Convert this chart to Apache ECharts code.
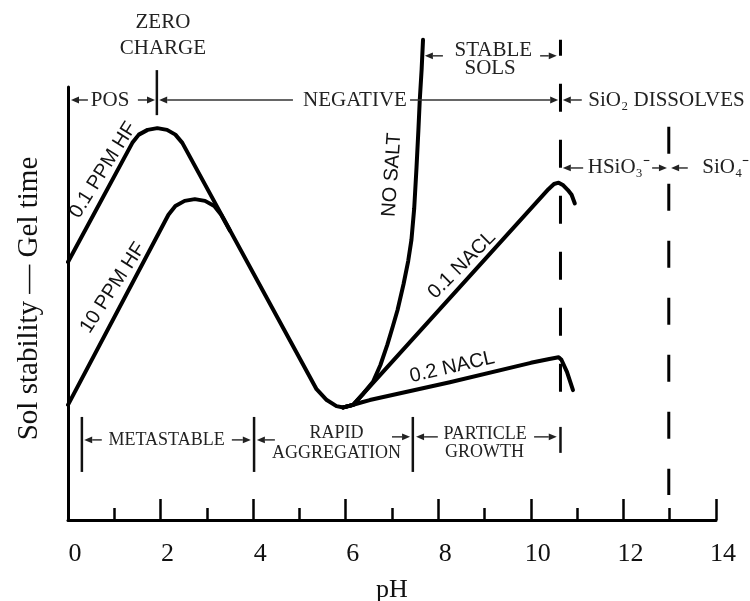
<!DOCTYPE html>
<html>
<head>
<meta charset="utf-8">
<script src="https://cdn.jsdelivr.net/npm/echarts@6/dist/echarts.min.js"></script>
<style>
  html, body { margin: 0; padding: 0; background: #fff; }
  #chart { width: 750px; height: 601px; }
</style>
</head>
<body>
<div id="chart"></div>
<script>
// pH axis ticks
const phTicks = [0, 2, 4, 6, 8, 10, 12, 14];

// Gel-time curves as [pH, relative stability]
const hfLow = [[0, 59.6], [1.39, 87.1], [1.53, 89.0], [1.72, 90.1], [1.93, 90.5], [2.14, 90.1], [2.32, 89.0],
  [2.47, 87.1], [5.37, 30.2], [5.59, 27.7], [5.8, 26.3], [5.95, 26.0], [6.16, 26.6]];
const hfHigh = [[0, 26.6], [2.17, 70.5], [2.32, 72.5], [2.52, 73.7], [2.74, 74.1], [2.96, 73.7], [3.16, 72.5],
  [3.31, 70.5], [3.5, 66.8]];
const noSalt = [[5.95, 26.0], [6.16, 26.6], [6.38, 29.2], [6.59, 31.9], [6.75, 35.8], [6.9, 40.5], [7.02, 44.8],
  [7.12, 48.5], [7.25, 54.5], [7.35, 59.8], [7.42, 64.7], [7.48, 72.0], [7.53, 81.5], [7.57, 90.0],
  [7.6, 97.0], [7.64, 104.0], [7.67, 110.9]];
const nacl01 = [[5.95, 26.0], [6.16, 26.6], [10.38, 76.4], [10.5, 77.6], [10.6, 77.9], [10.7, 77.3],
  [10.8, 76.2], [10.88, 75.1], [10.95, 73.1]];
const nacl02 = [[5.95, 26.0], [6.16, 26.6], [6.35, 27.2], [6.52, 27.7], [8.25, 31.8], [10.0, 36.3],
  [10.4, 37.2], [10.6, 37.6], [10.66, 37.0], [10.78, 34.2], [10.91, 30.0]];

// Region boundaries (pH, stability span)
const boundaryDissolve = [[10.64, 110.9], [10.64, 28.9]];
const boundarySilicate = [[12.98, 90.8], [12.98, 5.8]];

// Annotation layout, in data coordinates
const serif = '"Liberation Serif", "Times New Roman", serif';
const sans = '"Liberation Sans", Arial, sans-serif';

const regionTexts = [
  { text: 'ZERO', x: 2.05, y: 114.8, size: 21 },
  { text: 'CHARGE', x: 2.05, y: 109.0, size: 21 },
  { text: 'POS', x: 0.91, y: 97.0, size: 21 },
  { text: 'NEGATIVE', x: 6.2, y: 97.0, size: 21 },
  { text: 'SiO\u2082 DISSOLVES', x: 12.93, y: 97.0, size: 21 },
  { text: 'STABLE', x: 9.19, y: 108.4, size: 21 },
  { text: 'SOLS', x: 9.12, y: 104.3, size: 21 },
  { text: 'HSiO\u2083\u207B', x: 11.9, y: 81.3, size: 21 },
  { text: 'SiO\u2084\u207B', x: 14.21, y: 81.3, size: 21 },
  { text: 'METASTABLE', x: 2.13, y: 18.5, size: 18 },
  { text: 'RAPID', x: 5.8, y: 20.1, size: 18 },
  { text: 'AGGREGATION', x: 5.8, y: 15.5, size: 18 },
  { text: 'PARTICLE', x: 9.01, y: 19.9, size: 18 },
  { text: 'GROWTH', x: 9.0, y: 15.6, size: 18 }
];

const curveTexts = [
  { text: '0.1 PPM HF', x: 0.76, y: 80.8, rot: 58 },
  { text: '10 PPM HF', x: 0.97, y: 53.6, rot: 57 },
  { text: 'NO SALT', x: 7.0, y: 79.7, rot: 86 },
  { text: '0.1 NACL', x: 8.51, y: 58.9, rot: 45 },
  { text: '0.2 NACL', x: 8.3, y: 35.3, rot: 13 }
];

// [tail, head]
const arrows = [
  [[0.43, 97.0], [0.065, 97.0]],
  [[1.51, 97.0], [1.88, 97.0]],
  [[4.86, 97.0], [1.97, 97.0]],
  [[7.39, 97.0], [10.59, 97.0]],
  [[11.1, 97.0], [10.69, 97.0]],
  [[8.1, 107.2], [7.71, 107.2]],
  [[10.2, 107.2], [10.56, 107.2]],
  [[11.13, 81.3], [10.69, 81.3]],
  [[12.62, 81.3], [12.94, 81.3]],
  [[13.39, 81.3], [13.03, 81.3]],
  [[0.73, 18.5], [0.35, 18.5]],
  [[3.54, 18.5], [3.95, 18.5]],
  [[4.47, 18.5], [4.08, 18.5]],
  [[7.0, 19.2], [7.39, 19.2]],
  [[7.99, 19.2], [7.52, 19.2]],
  [[10.07, 19.2], [10.56, 19.2]]
];

// vertical bars [pH, top, bottom]
const bars = [
  [1.92, 103.9, 93.5],
  [0.30, 23.8, 11.1],
  [4.02, 23.8, 11.1],
  [7.45, 23.8, 11.1],
  [10.64, 21.5, 15.5]
];

function curve(name, data, clip) {
  return {
    name, type: 'line', data, symbol: 'none', showSymbol: false, clip: clip,
    silent: true, z: 3,
    lineStyle: { color: '#000', width: 4, cap: 'round', join: 'round' }
  };
}

function boundary(name, data, dash, offset) {
  return {
    name, type: 'line', data, symbol: 'none', showSymbol: false, clip: false, silent: true, z: 2,
    lineStyle: { color: '#000', width: 3, type: dash, dashOffset: offset }
  };
}

const chart = echarts.init(document.getElementById('chart'), null, { renderer: 'canvas' });

chart.setOption({
  animation: false,
  backgroundColor: '#fff',
  grid: { left: 68, right: 34, top: 87, bottom: 81, containLabel: false, outerBoundsMode: 'none' },
  xAxis: {
    type: 'value', min: phTicks[0], max: phTicks[phTicks.length - 1], interval: 2,
    name: 'pH', nameLocation: 'middle', nameGap: 57,
    nameTextStyle: { fontFamily: serif, fontSize: 26, color: '#111' },
    axisLine: { lineStyle: { color: '#000', width: 3 } },
    axisTick: { inside: true, length: 21, lineStyle: { color: '#000', width: 2.5 } },
    minorTick: { show: true, splitNumber: 2, length: 12, lineStyle: { color: '#000', width: 2.5 } },
    axisLabel: { fontFamily: serif, fontSize: 26, color: '#111', margin: 21, padding: [0, 0, 0, 14] },
    splitLine: { show: false }
  },
  yAxis: {
    type: 'value', min: 0, max: 100,
    name: 'Sol stability \u2014 Gel time', nameLocation: 'middle', nameGap: 24,
    nameTextStyle: { fontFamily: serif, fontSize: 29, color: '#111', padding: [0, 0, 0, 10] },
    axisLine: { show: true, lineStyle: { color: '#000', width: 3 } },
    axisTick: { show: false },
    axisLabel: { show: false },
    splitLine: { show: false }
  },
  series: [
    curve('0.1 PPM HF', hfLow, true),
    curve('10 PPM HF', hfHigh, true),
    curve('NO SALT', noSalt, false),
    curve('0.1 NACL', nacl01, true),
    curve('0.2 NACL', nacl02, true),
    boundary('SiO2 dissolves', boundaryDissolve, [28, 28], 12),
    boundary('HSiO3 / SiO4', boundarySilicate, [27, 30], 0)
  ]
});

const toPx = p => chart.convertToPixel({ gridIndex: 0 }, p);

function segment(a, b, width, color) {
  return {
    type: 'line', silent: true, z: 10,
    shape: { x1: a[0], y1: a[1], x2: b[0], y2: b[1] },
    style: { stroke: color, lineWidth: width }
  };
}

function arrowElements(tail, head) {
  const t = toPx(tail), h = toPx(head);
  const dx = h[0] - t[0], dy = h[1] - t[1];
  const len = Math.hypot(dx, dy);
  const ux = dx / len, uy = dy / len;
  const headLen = 8, headHalf = 3.4;
  const base = [h[0] - ux * headLen, h[1] - uy * headLen];
  return [
    segment(t, base, 1.5, '#333'),
    {
      type: 'polygon', silent: true, z: 10,
      shape: { points: [h, [base[0] - uy * headHalf, base[1] + ux * headHalf], [base[0] + uy * headHalf, base[1] - ux * headHalf]] },
      style: { fill: '#222' }
    }
  ];
}

function textElement(t, family, size, color) {
  const p = toPx([t.x, t.y]);
  return {
    type: 'text', silent: true, z: 10,
    x: p[0], y: p[1], rotation: (t.rot || 0) * Math.PI / 180,
    style: {
      text: t.text, fontFamily: family, fontSize: size, fill: color,
      align: 'center', verticalAlign: 'middle', textAlign: 'center', textVerticalAlign: 'middle'
    }
  };
}

const elements = [];
regionTexts.forEach(t => elements.push(textElement(t, serif, t.size, '#222')));
curveTexts.forEach(t => elements.push(textElement(t, sans, 20, '#111')));
arrows.forEach(a => elements.push(...arrowElements(a[0], a[1])));
bars.forEach(b => elements.push(segment(toPx([b[0], b[1]]), toPx([b[0], b[2]]), 2.5, '#111')));

chart.setOption({ graphic: { elements } });
</script>
</body>
</html>
